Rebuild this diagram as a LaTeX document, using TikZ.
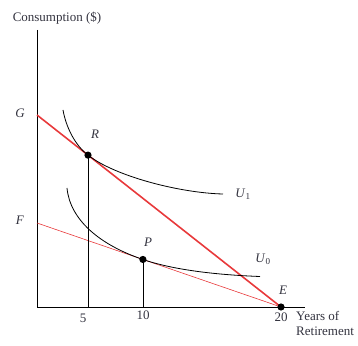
\documentclass[tikz,border=0pt]{standalone}
\usepackage{fontspec}
\setmainfont{Liberation Serif}
\usepackage{tikz}
\usepackage{xcolor}
\usetikzlibrary{calc}
\definecolor{Budget}{HTML}{E8393B}
\definecolor{Ink}{HTML}{33333F}

\begin{document}
\begin{tikzpicture}[x=1pt,y=1pt,font=\fontsize{13}{15}\selectfont,text=Ink]
  \useasboundingbox (0,0) rectangle (358,345);
  \coordinate (O) at (37,38);
  \coordinate (ytop) at (37,315);
  \coordinate (xend) at (305,38);
  \coordinate (G) at (37,230);
  \coordinate (F) at (37,122);
  \coordinate (E) at (281,38);
  \coordinate (R) at ($(G)!0.209!(E)$);
  \coordinate (P) at ($(F)!0.434!(E)$);
  % axes
  \draw[thick] (ytop) -- (O) -- (xend);
  % budget lines
  \draw[Budget,line width=1.6pt] (G) -- (E);
  \draw[Budget,semithick] (F) -- (E);
  % indifference curves
  \draw[thick] (63,235) .. controls (66,218) and (75,199.7) .. (R)
    .. controls (115,168.7) and (180,152) .. (223,151);
  \draw[thick] (67,157) .. controls (70,125) and (100,100) .. (P)
    .. controls (175,74.5) and (220,70) .. (260,68.5);
  % drop lines
  \draw[thick] (R) -- (R |- O);
  \draw[thick] (P) -- (P |- O);
  \fill (R) circle (3.6);
  \fill (P) circle (3.6);
  \fill (E) circle (3.6);
  % labels
  \node (ylab) at (57,327) {Consumption (\$)};
  \node (lblG) at (20,232) {\textit{G}};
  \node (lblF) at (20,125) {\textit{F}};
  \node (lblR) at (95,211) {\textit{R}};
  \node (lblP) at (148,103) {\textit{P}};
  \node (lblE) at (283,55) {\textit{E}};
  \node (lblU1) at (243,151) {\textit{U}\textsubscript{1}};
  \node (lblU0) at (263,86) {\textit{U}\textsubscript{0}};
  \node (t5) at (83,27) {5};
  \node (t10) at (143,30) {10};
  \node (t20) at (281,28) {20};
  \node[align=left,anchor=north west,inner sep=0pt] (xlab) at (296,34) {Years of\\Retirement};
\end{tikzpicture}
\end{document}
